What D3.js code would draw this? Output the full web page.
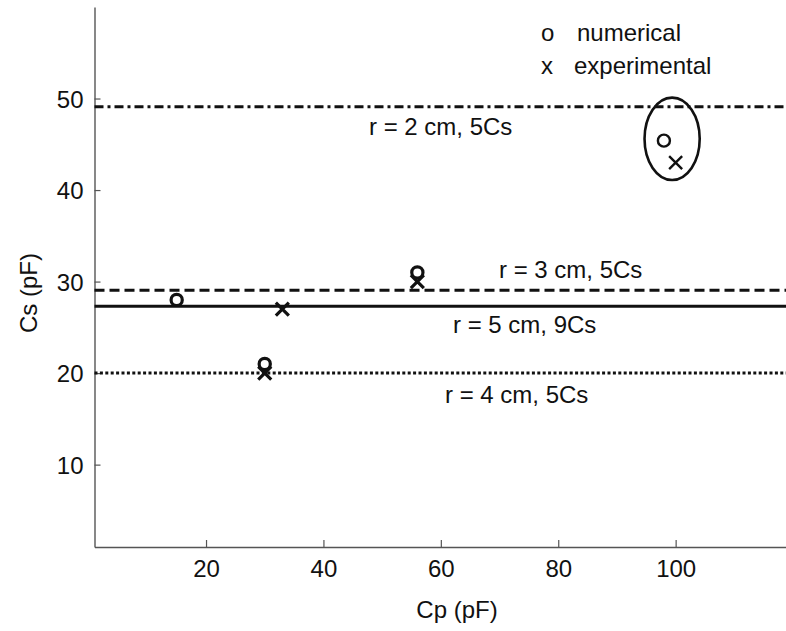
<!DOCTYPE html>
<html>
<head>
<meta charset="utf-8">
<script src="https://cdn.jsdelivr.net/npm/d3@7"></script>
<style>
  html, body { margin: 0; padding: 0; background: #fff; }
  svg { display: block; font-family: "Liberation Sans", Arial, Helvetica, sans-serif; }
</style>
</head>
<body>
<svg id="chart" width="786" height="631"></svg>
<script>
// Series capacitance Cs versus parallel capacitance Cp
const xTicks = [20, 40, 60, 80, 100];
const yTicks = [10, 20, 30, 40, 50];

// Reference levels for each electrode configuration
const levelNames = ["r = 2 cm, 5Cs", "r = 3 cm, 5Cs", "r = 5 cm, 9Cs", "r = 4 cm, 5Cs"];
const levelValues = [49.1, 29.05, 27.3, 20.0];

// Simulated results
const numericalCp = [15, 30, 56, 98];
const numericalCs = [28, 21, 31, 45.4];

// Measured results
const experimentalCp = [33, 30, 56, 100];
const experimentalCs = [27, 20, 30, 43];

// Highlighted group (centre and half-axes in data units)
const highlightCenter = [99.4, 45.6];
const highlightRadius = [4.7, 4.5];

const legendNames = ["numerical", "experimental"];
const legendSymbols = ["o", "x"];

const svg = d3.select("#chart");
const fontSize = 24;

const x = d3.scaleLinear().domain([1, 118.8]).range([94.5, 786]);
const y = d3.scaleLinear().domain([1, 60]).range([547, 7]);

const axisColor = "#555";

// Axes: ticks point inward
const xAxis = svg.append("g")
  .attr("transform", `translate(0,${y(1)})`)
  .call(d3.axisBottom(x).tickValues(xTicks).tickSize(-7).tickPadding(13).tickSizeOuter(0));
const yAxis = svg.append("g")
  .attr("transform", `translate(${x(1)},0)`)
  .call(d3.axisLeft(y).tickValues(yTicks).tickSize(-6).tickPadding(11).tickSizeOuter(0));

[xAxis, yAxis].forEach(g => {
  g.select(".domain").attr("stroke", axisColor).attr("stroke-width", 1.4);
  g.selectAll(".tick line").attr("stroke", axisColor).attr("stroke-width", 1.2);
  g.selectAll(".tick text")
    .attr("fill", "#111")
    .style("font-size", fontSize + "px")
    .style("font-family", "'Liberation Sans', Arial, sans-serif");
});
xAxis.selectAll(".tick text").attr("dy", "0.71em");
yAxis.selectAll(".tick text").attr("dy", "0.36em");

// Axis titles
svg.append("text")
  .attr("x", 457).attr("y", 618)
  .attr("text-anchor", "middle")
  .style("font-size", fontSize + "px")
  .attr("fill", "#111")
  .text("Cp (pF)");

svg.append("text")
  .attr("transform", "translate(37,293) rotate(-90)")
  .attr("text-anchor", "middle")
  .style("font-size", fontSize + "px")
  .attr("fill", "#111")
  .text("Cs (pF)");

// Horizontal reference lines: dash-dot, dashed, solid, dotted
const levelDash = ["9,4,3,4", "10,5", null, "3,2.4"];
const levelWidth = [3, 3, 3, 3];
const xr = x.domain();
levelValues.forEach((v, i) => {
  svg.append("line")
    .attr("x1", x(xr[0])).attr("x2", x(xr[1]))
    .attr("y1", y(v)).attr("y2", y(v))
    .attr("stroke", "#111")
    .attr("stroke-width", levelWidth[i])
    .attr("stroke-dasharray", levelDash[i]);
});

// Level annotations (text start and baseline)
const levelLabelPos = [[369, 135], [499, 278], [453, 333], [445, 403]];
levelNames.forEach((t, i) => {
  svg.append("text")
    .attr("x", levelLabelPos[i][0]).attr("y", levelLabelPos[i][1])
    .style("font-size", fontSize + "px")
    .attr("fill", "#111")
    .text(t);
});

// Highlight ellipse
svg.append("ellipse")
  .attr("cx", x(highlightCenter[0])).attr("cy", y(highlightCenter[1]))
  .attr("rx", x(highlightCenter[0] + highlightRadius[0]) - x(highlightCenter[0]))
  .attr("ry", y(highlightCenter[1]) - y(highlightCenter[1] + highlightRadius[1]))
  .attr("fill", "none")
  .attr("stroke", "#111")
  .attr("stroke-width", 2.6);

// Markers: the last point of each series sits inside the ellipse and is drawn lighter
const lastIdx = numericalCp.length - 1;
numericalCp.forEach((cp, i) => {
  const thin = i === lastIdx;
  svg.append("circle")
    .attr("cx", x(cp)).attr("cy", y(numericalCs[i]))
    .attr("r", thin ? 6 : 5.6)
    .attr("fill", "none")
    .attr("stroke", "#111")
    .attr("stroke-width", thin ? 2.4 : 3.2);
});

experimentalCp.forEach((cp, i) => {
  const thin = i === lastIdx;
  const h = 6.5;
  const cx = x(cp), cy = y(experimentalCs[i]);
  svg.append("path")
    .attr("d", `M${cx - h},${cy - h}L${cx + h},${cy + h}M${cx - h},${cy + h}L${cx + h},${cy - h}`)
    .attr("fill", "none")
    .attr("stroke", "#111")
    .attr("stroke-width", thin ? 2.4 : 3.2);
});

// Legend
const legendRows = [[541, 577, 41], [541, 574, 74]];
legendNames.forEach((name, i) => {
  const [sx, tx, by] = legendRows[i];
  svg.append("text")
    .attr("x", sx).attr("y", by)
    .style("font-size", fontSize + "px")
    .attr("fill", "#111")
    .text(legendSymbols[i]);
  svg.append("text")
    .attr("x", tx).attr("y", by)
    .style("font-size", fontSize + "px")
    .attr("fill", "#111")
    .text(name);
});
</script>
</body>
</html>
